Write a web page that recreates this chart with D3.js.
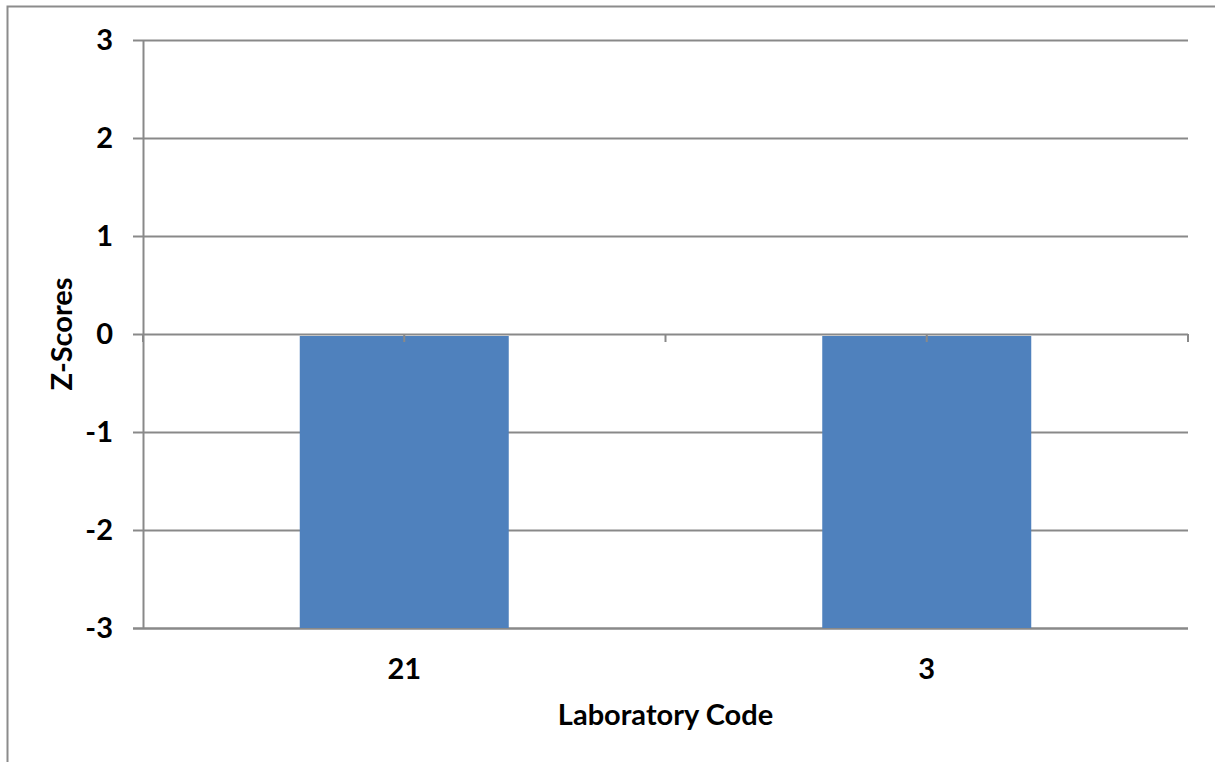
<!DOCTYPE html>
<html><head><meta charset="utf-8">
<script src="https://cdn.jsdelivr.net/npm/d3@7"></script>
<style>
html,body{margin:0;padding:0;background:#fff;}
text{font-family:Lato,"Open Sans",sans-serif;font-weight:bold;fill:#000;}
</style></head>
<body>
<svg id="chart" width="1215" height="762"></svg>
<script>
const categories = ["21", "3"];
const zScores = [-3, -3];
const yTicks = [-3, -2, -1, 0, 1, 2, 3];
const yTitle = "Z-Scores";
const xTitle = "Laboratory Code";

const svg = d3.select("#chart");
const W = 1215, H = 762;
const m = {left: 143, top: 40, right: 1188, bottom: 628};
const grid = "#898989";
const fs = 29;

// outer chart border (left and top visible)
svg.append("rect").attr("x", 7.5).attr("y", 6.5).attr("width", W).attr("height", H)
  .attr("fill", "none").attr("stroke", "#8c8c8c").attr("stroke-width", 2);

const x = d3.scaleBand().domain(categories).range([m.left, m.right]).paddingInner(0).paddingOuter(0);
const y = d3.scaleLinear().domain([-3, 3]).range([m.bottom, m.top]);

// gridlines + y ticks
svg.append("g").selectAll("line").data(yTicks).join("line")
  .attr("x1", m.left - 10).attr("x2", m.right)
  .attr("y1", d => Math.round(y(d)) + 0.5).attr("y2", d => Math.round(y(d)) + 0.5)
  .attr("stroke", grid).attr("stroke-width", d => d === -3 ? 2.5 : 2);

// y axis line
svg.append("line").attr("x1", m.left + 0.5).attr("x2", m.left + 0.5)
  .attr("y1", y(3)).attr("y2", y(-3)).attr("stroke", grid).attr("stroke-width", 2);

// bars
const bw = x.bandwidth() * 0.4;
svg.append("g").selectAll("rect").data(categories).join("rect")
  .attr("x", (d) => x(d) + x.bandwidth() / 2 - bw / 2)
  .attr("width", bw)
  .attr("y", (d, i) => y(Math.max(0, zScores[i])) + 2)
  .attr("height", (d, i) => Math.abs(y(zScores[i]) - y(0)) - 2)
  .attr("fill", "#4f81bd");

// category tick marks on zero line (band edges and centers)
const xt = [];
categories.forEach(c => { xt.push(x(c)); xt.push(x(c) + x.bandwidth() / 2); });
xt.push(m.right);
svg.append("g").selectAll("line").data(xt).join("line")
  .attr("x1", d => d).attr("x2", d => d)
  .attr("y1", y(0)).attr("y2", y(0) + 8)
  .attr("stroke", grid).attr("stroke-width", 2);

// y tick labels
svg.append("g").selectAll("text").data(yTicks).join("text")
  .attr("x", 113).attr("y", d => y(d)).attr("dy", "0.35em")
  .attr("text-anchor", "end").attr("font-size", fs)
  .text(d => d);

// x labels
svg.append("g").selectAll("text").data(categories).join("text")
  .attr("x", d => x(d) + x.bandwidth() / 2).attr("y", 669).attr("dy", "0.35em")
  .attr("text-anchor", "middle").attr("font-size", fs)
  .text(d => d);

// titles
svg.append("text").attr("x", (m.left + m.right) / 2).attr("y", 715).attr("dy", "0.35em")
  .attr("text-anchor", "middle").attr("font-size", fs).text(xTitle);
svg.append("text").attr("transform", `translate(62,${y(0)}) rotate(-90)`).attr("dy", "0.35em")
  .attr("text-anchor", "middle").attr("font-size", fs).text(yTitle);
</script>
</body></html>
